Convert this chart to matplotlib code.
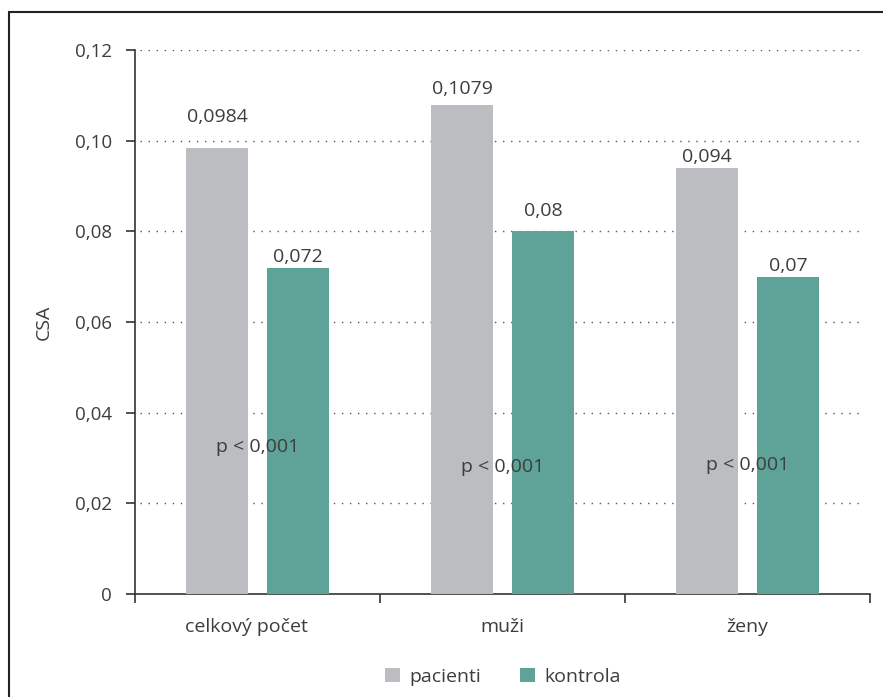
import matplotlib
matplotlib.use("Agg")
import matplotlib.pyplot as plt
import matplotlib.transforms as mtransforms
import numpy as np
from matplotlib.patches import Rectangle

# data
categories = ["celkový počet", "muži", "ženy"]
pacienti = [0.0984, 0.1079, 0.094]
kontrola = [0.072, 0.08, 0.07]
pacienti_labels = ["0,0984", "0,1079", "0,094"]
kontrola_labels = ["0,072", "0,08", "0,07"]
p_text = ["p < 0,001", "p < 0,001", "p < 0,001"]
p_y = [0.0324, 0.028, 0.0285]
yticks = [0, 0.02, 0.04, 0.06, 0.08, 0.10, 0.12]
ytick_labels = ["0", "0,02", "0,04", "0,06", "0,08", "0,10", "0,12"]

gray = "#bcbdc1"
teal = "#5fa398"
txt = "#3d3d3d"

plt.rcParams['font.family'] = ['Open Sans', 'DejaVu Sans']
plt.rcParams['font.size'] = 14

fig = plt.figure(figsize=(8.83, 6.97), dpi=100)
ax = fig.add_axes([135/883, 1-594/697, 735/883, 544/697])

x = np.arange(len(categories))
w = 0.25
off = 0.165
b1 = ax.bar(x - off, pacienti, w, color=gray, label="pacienti", zorder=3)
b2 = ax.bar(x + off, kontrola, w, color=teal, label="kontrola", zorder=3)

# value labels (baseline offsets in points, as placed in the original)
off1 = [18.7, 7.9, 4.3]
off2 = [4.3, 10.8, 4.3]
for i in range(len(categories)):
    ax.annotate(pacienti_labels[i], (x[i] - off, pacienti[i]), xytext=(0, off1[i]),
                textcoords="offset points", ha="center", va="baseline", color=txt)
    ax.annotate(kontrola_labels[i], (x[i] + off, kontrola[i]), xytext=(0, off2[i]),
                textcoords="offset points", ha="center", va="baseline", color=txt)
    ax.text(x[i], p_y[i], p_text[i], ha="center", va="center", color=txt, zorder=4)

ax.set_xlim(-0.5, 2.5)
ax.set_ylim(0, 0.12)

# dotted grid
for yv in yticks[1:]:
    ax.axhline(yv, xmin=0.007, xmax=0.992, color="#555555", lw=1.0,
               linestyle=(0, (1, 4.8)), zorder=1)

ax.set_yticks(yticks)
ax.set_yticklabels(ytick_labels, color=txt, fontsize=13.5)
ax.set_xticks(x)
ax.set_xticklabels(categories, color=txt)
ax.tick_params(axis="x", length=0, pad=17)
ax.set_xticks([-0.5, 0.5, 1.5, 2.5], minor=True)
ax.tick_params(axis="x", which="minor", length=6.5, width=1.2, color="#333333")
ax.tick_params(axis="y", length=6.5, width=1.2, color="#333333", pad=10)

# first category label sits a little left of centre in the original
lab0 = ax.get_xticklabels()[0]
lab0.set_transform(lab0.get_transform() +
                   mtransforms.ScaledTranslation(-8/72, 0, fig.dpi_scale_trans))

for s in ["top", "right"]:
    ax.spines[s].set_visible(False)
for s in ["left", "bottom"]:
    ax.spines[s].set_color("#333333")
    ax.spines[s].set_linewidth(1.2)

ax.set_ylabel("CSA", color=txt, labelpad=16)

fig.legend(handles=[b1, b2], loc="center", bbox_to_anchor=(503/883, 1-677/697),
           ncol=2, frameon=False, handlelength=0.75, handleheight=0.75,
           columnspacing=2.0, handletextpad=0.5, labelcolor=txt)

# frame around the chart (cropped at right and bottom)
fig.add_artist(Rectangle((9/883, -0.1), 1.2, 1 - 12/697 + 0.1, transform=fig.transFigure,
                         fill=False, edgecolor="#222222", lw=1.5))

fig.savefig("out.png", dpi=100)
